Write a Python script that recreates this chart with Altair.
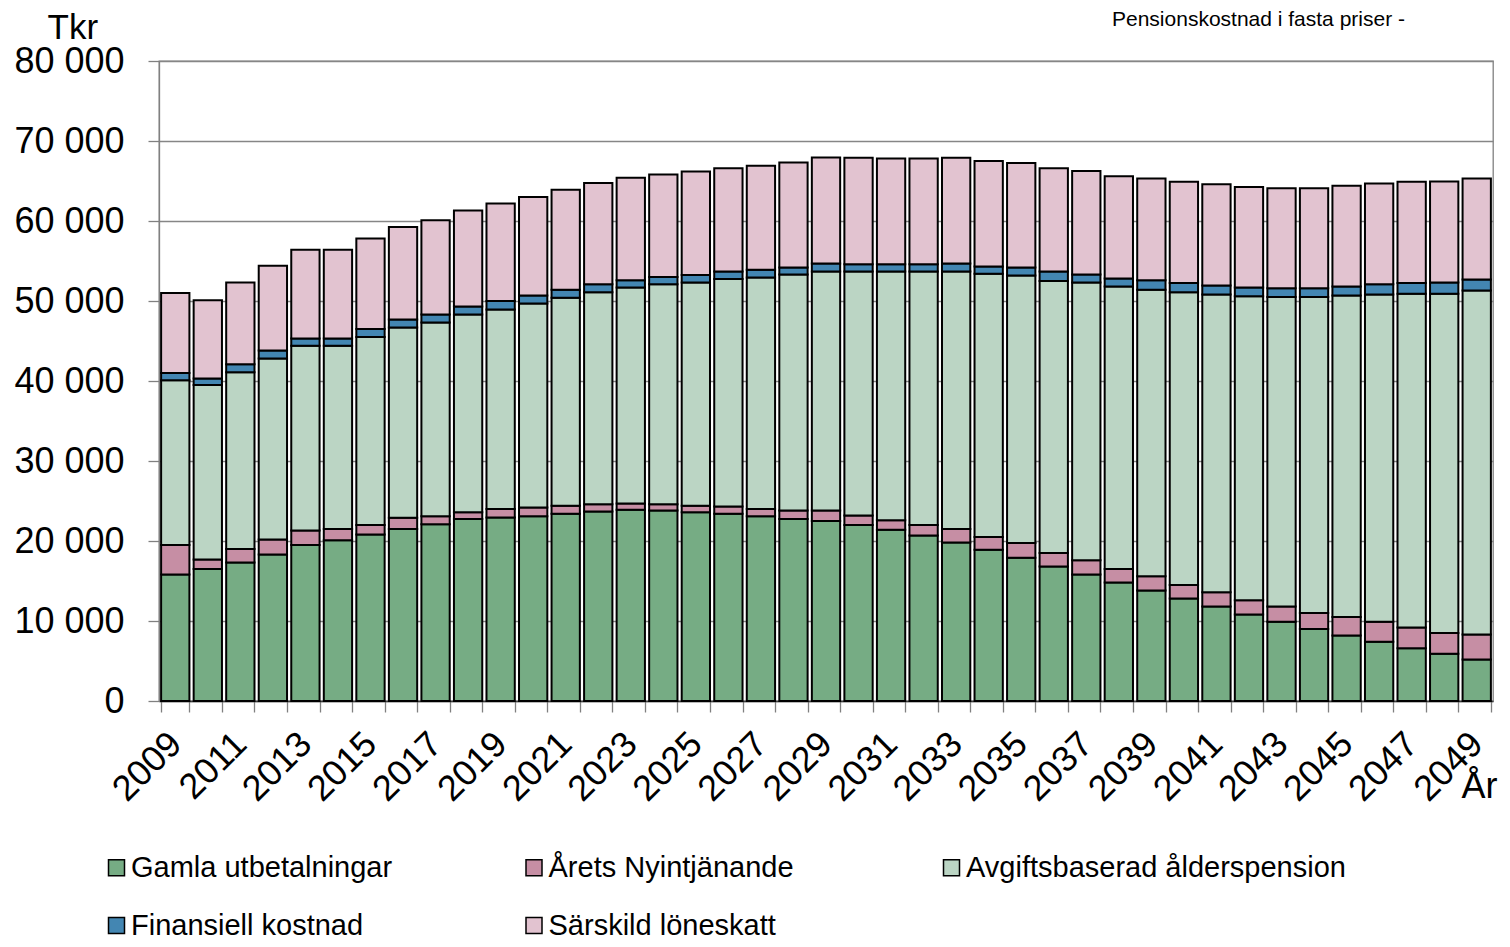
import altair as alt
import pandas as pd

years = list(range(2009, 2050))
series_names = ["Gamla utbetalningar", "Årets Nyintjänande", "Avgiftsbaserad ålderspension",
                "Finansiell kostnad", "Särskild löneskatt"]
colors = ["#76AC84", "#C68EA4", "#BBD5C4", "#4386B2", "#E2C3D0"]

gamla = [15800, 16500, 17300, 18300, 19500, 20100, 20800, 21500, 22100, 22750, 22950, 23100, 23400, 23700,
         23900, 23800, 23600, 23400, 23100, 22750, 22500, 22000, 21400, 20700, 19800, 18900, 17900, 16800,
         15800, 14800, 13800, 12800, 11800, 10800, 9900, 9000, 8200, 7400, 6600, 5900, 5200]
nyintj = [3700, 1200, 1700, 1900, 1800, 1400, 1200, 1400, 1000, 850, 1050, 1100, 1000, 900,
          800, 800, 800, 900, 900, 1050, 1300, 1200, 1200, 1300, 1700, 1600, 1850, 1700,
          1800, 1700, 1800, 1700, 1800, 1800, 1900, 2000, 2300, 2500, 2600, 2600, 3100]
avgift = [20600, 21800, 22100, 22600, 23100, 22900, 23500, 23800, 24200, 24700, 24950, 25500, 26000, 26500,
          27000, 27500, 27900, 28450, 28950, 29500, 29900, 30500, 31100, 31700, 32200, 32900, 33450, 34000,
          34700, 35300, 35800, 36600, 37200, 38000, 38700, 39500, 40200, 40900, 41700, 42400, 43000]
finans = [900, 800, 1000, 1000, 900, 900, 1000, 1000, 1000, 1000, 1050, 1000, 1000, 1000,
          900, 900, 950, 950, 950, 900, 1000, 900, 900, 900, 1000, 900, 1000, 1200,
          1000, 1000, 1200, 1150, 1150, 1100, 1100, 1100, 1100, 1300, 1350, 1400, 1400]
sarskild = [10000, 9800, 10200, 10600, 11100, 11100, 11300, 11550, 11800, 12000, 12200, 12300, 12500, 12650,
            12800, 12800, 12950, 12900, 13000, 13100, 13250, 13300, 13200, 13200, 13200, 13200, 13050, 12900,
            12950, 12800, 12700, 12650, 12650, 12550, 12500, 12500, 12600, 12600, 12650, 12650, 12600]

y_ticks = list(range(0, 80001, 10000))

rows = []
for idx, (name, vals) in enumerate(zip(series_names, [gamla, nyintj, avgift, finans, sarskild])):
    for yr, v in zip(years, vals):
        rows.append({"year": yr, "series": name, "value": v, "idx": idx})
df = pd.DataFrame(rows)

FONT = "Liberation Sans"

chart = alt.Chart(df).mark_bar(stroke="black", strokeWidth=2).encode(
    x=alt.X("year:O",
            scale=alt.Scale(paddingInner=0.13, paddingOuter=0.065),
            axis=alt.Axis(
                labelExpr="datum.value % 2 == 1 ? datum.label : ''",
                labelAngle=315, labelAlign="right", labelBaseline="middle",
                labelFontSize=36, labelPadding=26, labelOverlap=False, labelColor="black",
                tickBand="extent", tickSize=11, tickColor="#808080", tickWidth=1.3,
                domainColor="#404040", domainWidth=1.3, grid=False,
                title="År", titleX=1302, titleY=96, titleAlign="left", titleBaseline="alphabetic",
                titleFontSize=36, titleFontWeight="normal", titleColor="black")),
    y=alt.Y("value:Q", stack="zero",
            scale=alt.Scale(domain=[0, 80000], nice=False),
            axis=alt.Axis(
                values=y_ticks,
                labelExpr="datum.value == 0 ? '0' : (datum.value / 1000) + ' 000'",
                labelFontSize=36, labelColor="black", labelPadding=24, labelOverlap=False,
                tickSize=11, tickColor="#808080", tickWidth=1.3,
                domainColor="#808080", domainWidth=1.3,
                grid=True, gridColor="#868686", gridWidth=1.3,
                title="Tkr", titleAngle=0, titleX=-112, titleY=-23, titleAlign="left",
                titleBaseline="alphabetic", titleFontSize=35, titleFontWeight="normal",
                titleColor="black")),
    color=alt.Color("series:N",
                    scale=alt.Scale(domain=series_names, range=colors),
                    legend=alt.Legend(
                        title=None, orient="none", legendX=-57, legendY=792,
                        direction="horizontal", columns=3, gridAlign="all",
                        columnPadding=8.5, rowPadding=28, padding=0,
                        symbolType="square", symbolSize=256, symbolStrokeColor="black",
                        symbolStrokeWidth=1.5, labelFontSize=29, labelColor="black",
                        labelOffset=0, labelLimit=600)),
    order=alt.Order("idx:Q", sort="ascending"),
).properties(
    width=1334, height=640,
    autosize=alt.AutoSizeParams(type="none"),
    padding={"left": 151, "top": 53, "right": 7, "bottom": 238},
    title=alt.TitleParams("Pensionskostnad i fasta priser -", anchor="start", frame="group",
                          dx=953, dy=24, fontSize=21, fontWeight="normal", color="black", font=FONT),
).configure(
    font=FONT,
).configure_view(
    stroke="#808080", strokeWidth=1.3,
)

chart.save("out.html", embed_options={"renderer": "svg", "actions": False})
